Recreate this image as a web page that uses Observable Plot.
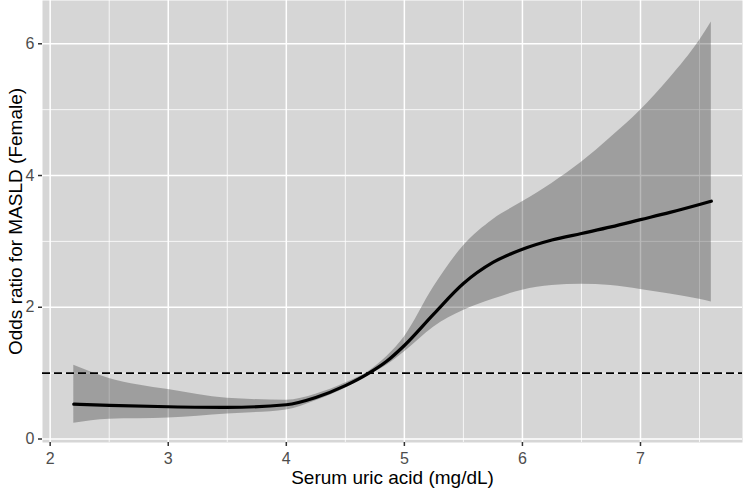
<!DOCTYPE html>
<html>
<head>
<meta charset="utf-8">
<script src="https://cdn.jsdelivr.net/npm/d3@7"></script>
<script src="https://cdn.jsdelivr.net/npm/@observablehq/plot@0.6"></script>
<style>
  html, body { margin: 0; padding: 0; background: #ffffff; }
  #chart svg { display: block; }
</style>
</head>
<body>
<div id="chart"></div>
<script>
// Data
const uricAcid = [2.2, 2.5, 3.0, 3.5, 4.0, 4.25, 4.5, 4.7, 4.85, 5.0, 5.25, 5.5, 5.75, 6.0, 6.25, 6.5, 6.75, 7.0, 7.25, 7.5, 7.6];
const oddsRatio = [0.53, 0.51, 0.49, 0.48, 0.52, 0.63, 0.81, 1.0, 1.18, 1.42, 1.9, 2.36, 2.68, 2.88, 3.02, 3.12, 3.22, 3.33, 3.44, 3.56, 3.61];
const upperCI = [1.12, 0.92, 0.75, 0.62, 0.59, 0.68, 0.85, 1.03, 1.25, 1.55, 2.31, 2.93, 3.33, 3.6, 3.88, 4.2, 4.58, 4.99, 5.48, 6.05, 6.33];
const lowerCI = [0.24, 0.30, 0.32, 0.38, 0.44, 0.58, 0.77, 0.97, 1.12, 1.32, 1.70, 1.95, 2.12, 2.26, 2.33, 2.35, 2.33, 2.27, 2.2, 2.12, 2.08];
const referenceOR = [1];
const xTicks = [2, 3, 4, 5, 6, 7];
const xMinor = [2.5, 3.5, 4.5, 5.5, 6.5, 7.5];
const yTicks = [0, 2, 4, 6];
const yMinor = [1, 3, 5];
const xTitle = "Serum uric acid (mg/dL)";
const yTitle = "Odds ratio for MASLD (Female)";

const rows = uricAcid.map((x, i) => ({x, or: oddsRatio[i], lo: lowerCI[i], hi: upperCI[i]}));

const xDomain = [1.935, 7.864];
const yDomain = [-0.053, 6.657];
const font = "'Liberation Sans', Arial, Helvetica, sans-serif";

const chart = Plot.plot({
  width: 744,
  height: 490,
  marginLeft: 42,
  marginRight: 2,
  marginTop: 0,
  marginBottom: 48,
  style: {fontFamily: font, background: "#ffffff", overflow: "visible"},
  x: {type: "linear", domain: xDomain, axis: null},
  y: {type: "linear", domain: yDomain, axis: null},
  marks: [
    Plot.frame({fill: "#d6d6d6", stroke: null}),
    Plot.ruleX(xMinor, {stroke: "#ffffff", strokeWidth: 0.8}),
    Plot.ruleY(yMinor, {stroke: "#ffffff", strokeWidth: 0.8}),
    Plot.ruleX(xTicks, {stroke: "#ffffff", strokeWidth: 1.5}),
    Plot.ruleY(yTicks, {stroke: "#ffffff", strokeWidth: 1.5}),
    Plot.areaY(rows, {x: "x", y1: "lo", y2: "hi", fill: "#333333", fillOpacity: 0.34, curve: "monotone-x"}),
    Plot.ruleY(referenceOR, {stroke: "#000000", strokeWidth: 1.7, strokeDasharray: "8,4"}),
    Plot.line(rows, {x: "x", y: "or", stroke: "#000000", strokeWidth: 3.2, curve: "monotone-x"}),
    // axis tick marks
    Plot.ruleX(xTicks, {y1: () => yDomain[0], y2: () => yDomain[0], insetBottom: -4, stroke: "#333333", strokeWidth: 1.5}),
    Plot.ruleY(yTicks, {x1: () => xDomain[0], x2: () => xDomain[0], insetLeft: -4, stroke: "#333333", strokeWidth: 1.5}),
    // tick labels
    Plot.text(xTicks, {x: d => d, frameAnchor: "bottom", dy: 16, lineAnchor: "middle", textAnchor: "middle", text: d => String(d), fill: "#4d4d4d", fontSize: 16}),
    Plot.text(yTicks, {y: d => d, frameAnchor: "left", dx: -8, lineAnchor: "middle", textAnchor: "end", text: d => String(d), fill: "#4d4d4d", fontSize: 16}),
    // axis titles
    Plot.text([xTitle], {frameAnchor: "bottom", dy: 35, lineAnchor: "middle", textAnchor: "middle", text: d => d, fill: "#000000", fontSize: 19}),
    Plot.text([yTitle], {frameAnchor: "left", dx: -27, rotate: -90, lineAnchor: "middle", textAnchor: "middle", text: d => d, fill: "#000000", fontSize: 19})
  ]
});

document.getElementById("chart").append(chart);
</script>
</body>
</html>
